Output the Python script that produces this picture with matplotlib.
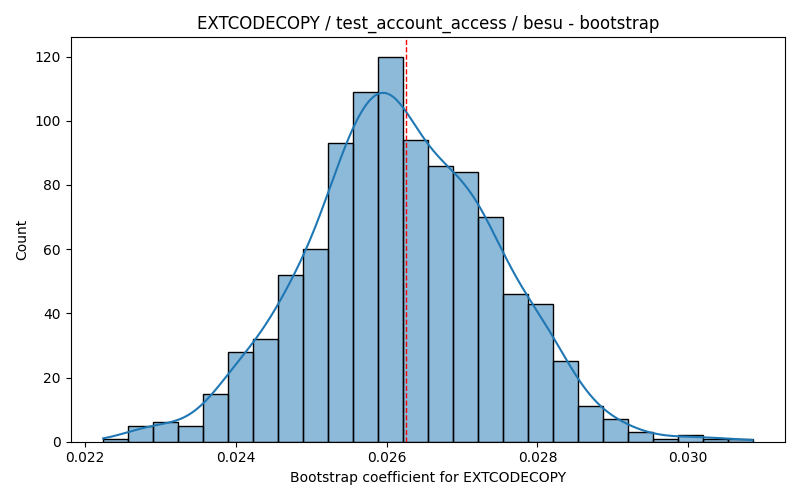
import numpy as np
import matplotlib
matplotlib.use("Agg")
import matplotlib.pyplot as plt
from matplotlib.colors import to_rgba

# histogram (26 bins)
bin_lo = 0.022242
bin_hi = 0.030852
counts = [1, 5, 6, 5, 15, 28, 32, 52, 60, 93, 109, 120, 94,
          86, 84, 70, 46, 43, 25, 11, 7, 3, 1, 2, 1, 1]
mean_line = 0.026256

edges = np.linspace(bin_lo, bin_hi, len(counts) + 1)
centers = (edges[:-1] + edges[1:]) / 2
w = np.array(counts, dtype=float)
width = edges[1] - edges[0]

fig, ax = plt.subplots(figsize=(8, 5), dpi=100)
ax.bar(edges[:-1], w, width=width, align="edge",
       facecolor=to_rgba("C0", 0.5), edgecolor="black", linewidth=1)

# gaussian kde on the binned values (scott bandwidth), scaled to counts
n = w.sum()
mu = np.sum(w * centers) / n
sd = np.sqrt(np.sum(w * (centers - mu) ** 2) / n)
bw = sd * n ** (-1 / 5)
xs = np.linspace(bin_lo, bin_hi, 400)
dens = np.sum(w[None, :] * np.exp(-0.5 * ((xs[:, None] - centers[None, :]) / bw) ** 2), axis=1)
dens = dens / (n * bw * np.sqrt(2 * np.pi))
ax.plot(xs, dens * n * width, color="C0", linewidth=1.5)

ax.axvline(mean_line, color="red", linestyle="--", linewidth=1)
ax.set_title("EXTCODECOPY / test_account_access / besu - bootstrap")
ax.set_xlabel("Bootstrap coefficient for EXTCODECOPY")
ax.set_ylabel("Count")
plt.tight_layout()
plt.savefig("out.png")
